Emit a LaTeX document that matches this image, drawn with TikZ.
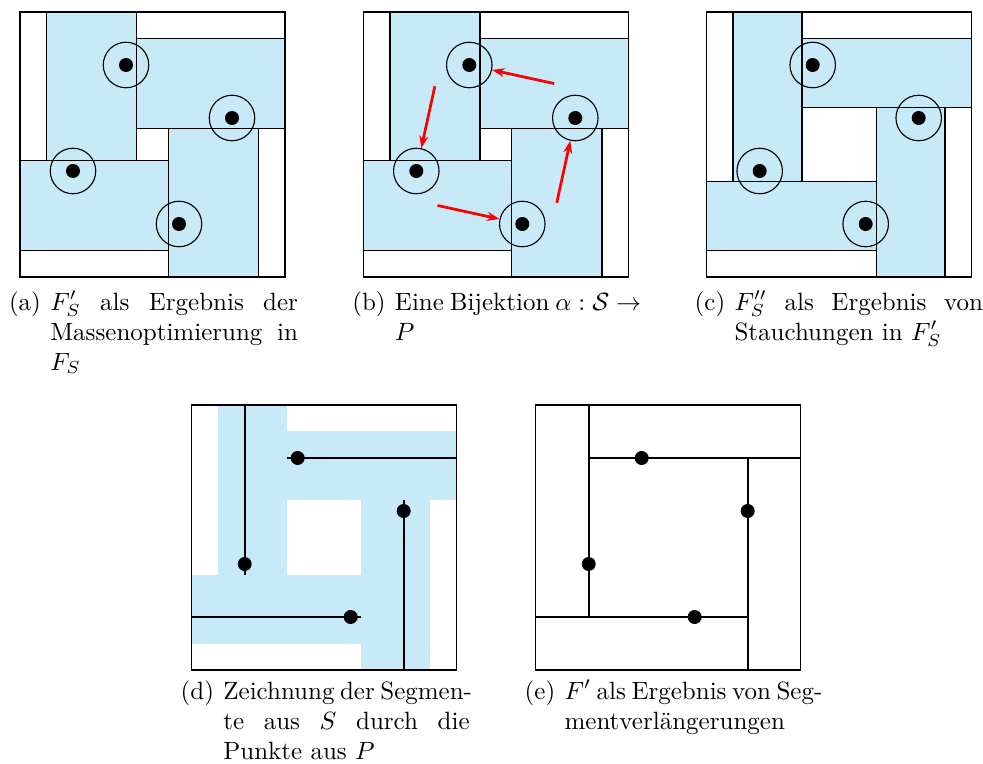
\documentclass[tikz,border=0pt]{standalone}
\usepackage{amsmath}
\usepackage{tikz}
\usetikzlibrary{arrows.meta,positioning,calc}
\definecolor{facecol}{RGB}{199,233,248}
\tikzset{
  frame/.style={draw=black, line width=0.6pt},
  face/.style={fill=facecol, draw=black, line width=0.6pt},
  facefill/.style={fill=facecol},
  ring/.style={circle, draw=black, line width=0.45pt, minimum size=18.2pt, inner sep=0pt},
  pt/.style={circle, fill=black, inner sep=0pt, minimum size=5.6pt},
  seg/.style={line width=0.85pt},
  assign/.style={red, line width=1.1pt, -{Stealth[length=5pt,width=3.6pt]}},
  caplab/.style={anchor=base west, inner sep=0pt},
}

\begin{document}
\begin{tikzpicture}[x=0.4pt, y=0.4pt]
  \useasboundingbox (0,0) rectangle (983,763);

  % (a) masses after optimisation
  \begin{scope}[shift={(20,486)}, x=10.6pt, y=10.6pt]
    \draw[face] (1,4.4) rectangle (4.4,10);
    \draw[face] (4.4,5.6) rectangle (10,9);
    \draw[face] (0,1) rectangle (5.6,4.4);
    \draw[face] (5.6,0) rectangle (9,5.6);
    \draw[frame] (0,0) rectangle (10,10);
    \foreach \px/\py [count=\i] in {4/8, 8/6, 2/4, 6/2} {
      \node[ring] (a-r\i) at (\px,\py) {};
      \node[pt] (a-p\i) at (\px,\py) {};
    }
  \end{scope}

  % (b) bijection
  \begin{scope}[shift={(363.3,486)}, x=10.6pt, y=10.6pt]
    \draw[face] (1,4.4) rectangle (4.4,10);
    \draw[face] (4.4,5.6) rectangle (10,9);
    \draw[face] (0,1) rectangle (5.6,4.4);
    \draw[face] (5.6,0) rectangle (9,5.6);
    \draw[frame] (0,0) rectangle (10,10);
    \foreach \px/\py [count=\i] in {4/8, 8/6, 2/4, 6/2} {
      \node[ring] (b-r\i) at (\px,\py) {};
      \node[pt] (b-p\i) at (\px,\py) {};
    }
    \coordinate (b-tl) at (2.7,7.2);
    \coordinate (b-tr) at (7.2,7.3);
    \coordinate (b-bl) at (2.8,2.7);
    \coordinate (b-br) at (7.3,2.8);
    \draw[assign] (b-tr) -- (b-r1);
    \draw[assign] (b-tl) -- (b-r3);
    \draw[assign] (b-bl) -- (b-r4);
    \draw[assign] (b-br) -- (b-r2);
  \end{scope}

  % (c) compressed
  \begin{scope}[shift={(706.7,486)}, x=10.6pt, y=10.6pt]
    \draw[face] (1,3.6) rectangle (3.6,10);
    \draw[face] (3.6,6.4) rectangle (10,9);
    \draw[face] (0,1) rectangle (6.4,3.6);
    \draw[face] (6.4,0) rectangle (9,6.4);
    \draw[frame] (0,0) rectangle (10,10);
    \foreach \px/\py [count=\i] in {4/8, 8/6, 2/4, 6/2} {
      \node[ring] (c-r\i) at (\px,\py) {};
      \node[pt] (c-p\i) at (\px,\py) {};
    }
  \end{scope}

  % (d) segments through the points
  \begin{scope}[shift={(191.7,93)}, x=10.6pt, y=10.6pt]
    \fill[facefill] (1,3.6) rectangle (3.6,10);
    \fill[facefill] (3.6,6.4) rectangle (10,9);
    \fill[facefill] (0,1) rectangle (6.4,3.6);
    \fill[facefill] (6.4,0) rectangle (9,6.4);
    \draw[frame] (0,0) rectangle (10,10);
    \draw[seg] (2,10) -- (2,3.6);
    \draw[seg] (3.6,8) -- (10,8);
    \draw[seg] (8,6.4) -- (8,0);
    \draw[seg] (0,2) -- (6.4,2);
    \foreach \px/\py [count=\i] in {4/8, 8/6, 2/4, 6/2}
      \node[pt] (d-p\i) at (\px,\py) {};
  \end{scope}

  % (e) extended segments
  \begin{scope}[shift={(535.7,93)}, x=10.6pt, y=10.6pt]
    \draw[frame] (0,0) rectangle (10,10);
    \draw[seg] (2,10) -- (2,2);
    \draw[seg] (2,8) -- (10,8);
    \draw[seg] (8,8) -- (8,0);
    \draw[seg] (0,2) -- (8,2);
    \foreach \px/\py [count=\i] in {4/8, 8/6, 2/4, 6/2}
      \node[pt] (e-p\i) at (\px,\py) {};
  \end{scope}

  % captions
  \node[caplab] (capa) at (8.5,453) {(a)};
  \node[caplab] (capa1) at ([xshift=3.33pt]capa.base east) {\makebox[99.1pt][s]{$F'_S$ als Ergebnis der}};
  \node[caplab] (capa2) at ([yshift=-12pt]capa1.base west) {\makebox[99.1pt][s]{Massenoptimierung in}};
  \node[caplab] (capa3) at ([yshift=-12pt]capa2.base west) {$F_S$};

  \node[caplab] (capb) at (351.8,453) {(b)};
  \node[caplab] (capb1) at ([xshift=3.33pt]capb.base east) {\makebox[98.5pt][s]{Eine Bijektion $\alpha : \mathcal{S} \to$}};
  \node[caplab] (capb2) at ([yshift=-12pt]capb1.base west) {$P$};

  \node[caplab] (capc) at (694.2,453) {(c)};
  \node[caplab] (capc1) at ([xshift=3.33pt]capc.base east) {\makebox[99.4pt][s]{$F''_S$ als Ergebnis von}};
  \node[caplab] (capc2) at ([yshift=-12pt]capc1.base west) {Stauchungen in $F'_S$};

  \node[caplab] (capd) at (180.2,64) {(d)};
  \node[caplab] (capd1) at ([xshift=3.33pt]capd.base east) {\makebox[98.5pt][s]{Zeichnung der Segmen-}};
  \node[caplab] (capd2) at ([yshift=-12pt]capd1.base west) {\makebox[98.5pt][s]{te aus $S$ durch die}};
  \node[caplab] (capd3) at ([yshift=-12pt]capd2.base west) {Punkte aus $P$};

  \node[caplab] (cape) at (524.2,64) {(e)};
  \node[caplab] (cape1) at ([xshift=3.33pt]cape.base east) {\makebox[99.6pt][s]{$F'$ als Ergebnis von Seg-}};
  \node[caplab] (cape2) at ([yshift=-12pt]cape1.base west) {mentverlängerungen};
\end{tikzpicture}
\end{document}
